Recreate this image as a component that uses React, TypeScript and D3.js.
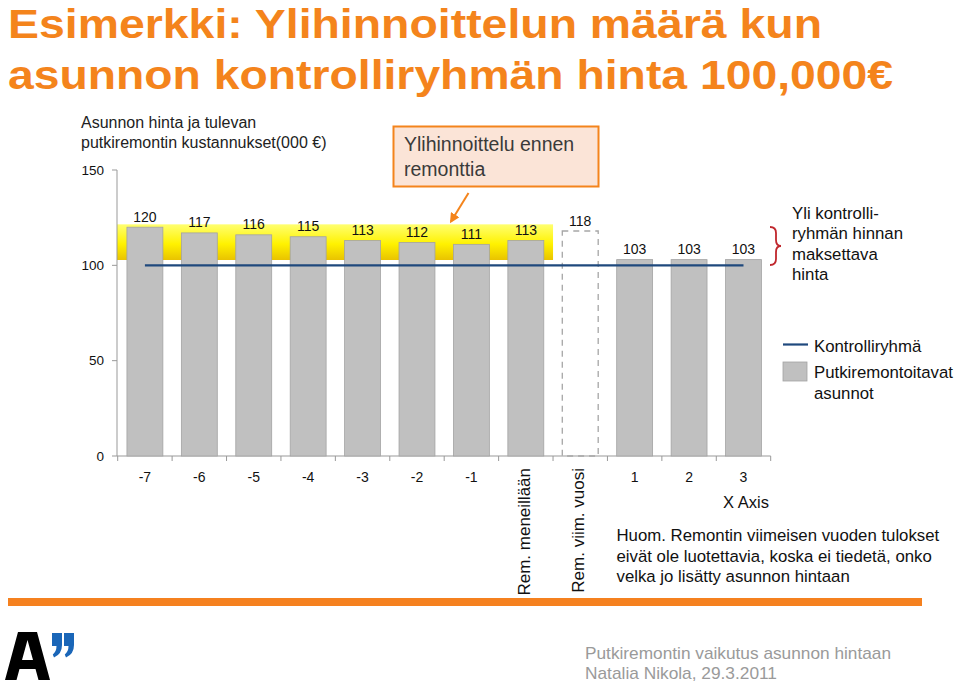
import React from "react";
import * as d3 from "d3";

// ---- data ----
const categories = ["-7", "-6", "-5", "-4", "-3", "-2", "-1", "Rem. meneillään", "Rem. viim. vuosi", "1", "2", "3"];
const renovatedPrices = [120, 117, 116, 115, 113, 112, 111, 113, 118, 103, 103, 103];
const controlPrices = [100, 100, 100, 100, 100, 100, 100, 100, 100, 100, 100, 100];
const dashedCategories = ["Rem. viim. vuosi"];
const rotatedCategories = ["Rem. meneillään", "Rem. viim. vuosi"];
const highlightedCategories = ["-7", "-6", "-5", "-4", "-3", "-2", "-1", "Rem. meneillään"];
const yTicks = [0, 50, 100, 150];
const highlightRange = [102.8, 121.5];

const titleLines = ["Esimerkki: Ylihinnoittelun määrä kun", "asunnon kontrolliryhmän hinta 100,000€"];
const yTitleLines = ["Asunnon hinta ja tulevan", "putkiremontin kustannukset(000 €)"];
const calloutLines = ["Ylihinnoittelu ennen", "remonttia"];
const braceLines = ["Yli kontrolli-", "ryhmän hinnan", "maksettava", "hinta"];
const legendLabels = ["Kontrolliryhmä", "Putkiremontoitavat", "asunnot"];
const noteLines = [
  "Huom. Remontin viimeisen vuoden tulokset",
  "eivät ole luotettavia, koska ei tiedetä, onko",
  "velka jo lisätty asunnon hintaan",
];
const xAxisTitle = "X Axis";
const footerLines = ["Putkiremontin vaikutus asunnon hintaan", "Natalia Nikola, 29.3.2011"];

const FONT = "'Liberation Sans', Arial, sans-serif";
const ORANGE = "#f4841c";

export default function App() {
  const x = d3
    .scaleBand<string>()
    .domain(categories)
    .range([117.7, 770.7])
    .paddingInner(0.34)
    .paddingOuter(0.17);
  const y = d3.scaleLinear().domain([0, 150]).range([456, 170]);
  const step = x.step();
  const bw = x.bandwidth();
  const cx = (c: string) => (x(c) as number) + bw / 2;
  const bandStart = (c: string) => (x(c) as number) - (step - bw) / 2;

  const line = d3
    .line<number>()
    .x((_, i) => cx(categories[i]))
    .y((d) => y(d));

  const hlStart = 117;
  const hlEnd = bandStart(highlightedCategories[highlightedCategories.length - 1]) + step;

  const boundaries = d3.range(categories.length + 1).map((i) => 117.7 + i * step);

  const quote = (ox: number) =>
    `M${ox},633 L${ox + 10},633 L${ox + 10},645 Q${ox + 10},654 ${ox + 2},657.5 L${ox + 0.8},654.5 Q${ox + 4.5},651.5 ${ox + 4.5},646 L${ox},646 Z`;

  return (
    <svg
      width={960}
      height={684}
      style={{ position: "absolute", left: 0, top: 0, background: "#fff" }}
      fontFamily={FONT}
    >
      <defs>
        <linearGradient id="hl" x1="0" y1="0" x2="0" y2="1">
          <stop offset="0" stopColor="#ffff70" />
          <stop offset="0.55" stopColor="#fff200" />
          <stop offset="1" stopColor="#e9c300" />
        </linearGradient>
        <marker id="arrow" viewBox="0 0 10 10" refX="8" refY="5" markerWidth="5" markerHeight="5" orient="auto">
          <path d="M0,0 L10,5 L0,10 z" fill={ORANGE} />
        </marker>
      </defs>

      {/* title */}
      <text x={8} y={37.5} fontSize={41} fontWeight="bold" fill={ORANGE} textLength={814} lengthAdjust="spacingAndGlyphs">
        {titleLines[0]}
      </text>
      <text x={8} y={88.5} fontSize={41} fontWeight="bold" fill={ORANGE} textLength={885} lengthAdjust="spacingAndGlyphs">
        {titleLines[1]}
      </text>

      {/* y axis title */}
      {yTitleLines.map((t, i) => (
        <text key={t} x={81} y={128 + i * 20} fontSize={16} fill="#222">
          {t}
        </text>
      ))}

      {/* highlight */}
      <rect
        x={hlStart}
        y={y(highlightRange[1])}
        width={hlEnd - hlStart}
        height={y(highlightRange[0]) - y(highlightRange[1])}
        fill="url(#hl)"
      />

      {/* y axis */}
      <line x1={117} x2={117} y1={y(0)} y2={y(150)} stroke="#999" />
      {yTicks.map((t) => (
        <g key={t}>
          <line x1={112} x2={117} y1={y(t)} y2={y(t)} stroke="#999" />
          <text x={104} y={y(t)} dy="0.35em" textAnchor="end" fontSize={13.5} fill="#111">
            {t}
          </text>
        </g>
      ))}

      {/* x axis */}
      <line x1={117} x2={770.7} y1={y(0)} y2={y(0)} stroke="#999" />
      {boundaries.map((b, i) => (
        <line key={i} x1={b} x2={b} y1={y(0)} y2={y(0) + 5} stroke="#999" />
      ))}

      {/* bars */}
      {categories.map((c, i) => {
        const v = renovatedPrices[i];
        const dashed = dashedCategories.includes(c);
        return (
          <g key={c}>
            <rect
              x={x(c)}
              y={y(v)}
              width={bw}
              height={y(0) - y(v)}
              fill={dashed ? "none" : "#c0c0c0"}
              stroke={dashed ? "#a6a6a6" : "#a3a3a3"}
              strokeWidth={dashed ? 1.3 : 0.8}
              strokeDasharray={dashed ? "6,5" : undefined}
            />
            <text x={cx(c)} y={y(v) - 5.5} textAnchor="middle" fontSize={14} fill="#111">
              {v}
            </text>
          </g>
        );
      })}

      {/* control line */}
      <path d={line(controlPrices) || ""} fill="none" stroke="#1f497d" strokeWidth={2.2} />

      {/* x tick labels */}
      {categories.map((c) =>
        rotatedCategories.includes(c) ? (
          <text
            key={c}
            transform={`translate(${cx(c) + 4.2},468) rotate(-90)`}
            textAnchor="end"
            fontSize={17}
            fill="#111"
          >
            {c}
          </text>
        ) : (
          <text key={c} x={cx(c)} y={482} textAnchor="middle" fontSize={14} fill="#111">
            {c}
          </text>
        )
      )}
      <text x={746} y={508} textAnchor="middle" fontSize={16.5} fill="#111">
        {xAxisTitle}
      </text>

      {/* callout */}
      <rect x={393.5} y={126.5} width={205} height={60} fill="#fbe4d7" stroke={ORANGE} strokeWidth={2} />
      {calloutLines.map((t, i) => (
        <text key={t} x={404} y={151 + i * 24.5} fontSize={19.5} fill="#3a3a3a">
          {t}
        </text>
      ))}
      <line x1={468.5} y1={193} x2={451} y2={221.5} stroke={ORANGE} strokeWidth={2} markerEnd="url(#arrow)" />

      {/* brace */}
      <path
        d="M770,227 Q776,227 776,233 L776,240 Q776,246 781,246 Q776,246 776,252 L776,259 Q776,265 770,265"
        fill="none"
        stroke="#c0272d"
        strokeWidth={1.8}
      />
      {braceLines.map((t, i) => (
        <text key={t} x={792} y={218.5 + i * 20.5} fontSize={16.8} fill="#111">
          {t}
        </text>
      ))}

      {/* legend */}
      <line x1={783} x2={808} y1={344.5} y2={344.5} stroke="#1f497d" strokeWidth={2.2} />
      <text x={814} y={352} fontSize={16.8} fill="#111">
        {legendLabels[0]}
      </text>
      <rect x={783} y={362} width={24} height={19} fill="#c0c0c0" stroke="#a3a3a3" strokeWidth={0.8} />
      <text x={814} y={378} fontSize={16.8} fill="#111">
        {legendLabels[1]}
      </text>
      <text x={814} y={399} fontSize={16.8} fill="#111">
        {legendLabels[2]}
      </text>

      {/* note */}
      {noteLines.map((t, i) => (
        <text key={t} x={616.5} y={541 + i * 20.5} fontSize={16.8} fill="#111">
          {t}
        </text>
      ))}

      {/* orange rule */}
      <rect x={8} y={598} width={914} height={8} fill="#f5811f" />

      {/* logo (graphic) */}
      <path
        d="M5,680 L18,632 L37,632 L50,680 L38.5,680 L35.5,669 L19.5,669 L16.5,680 Z M22,660 L33,660 L27.5,640 Z"
        fill="#000"
        fillRule="evenodd"
      />
      <path d={quote(52)} fill="#1a66b8" />
      <path d={quote(64)} fill="#1a66b8" />

      {/* footer */}
      <text
        x={585}
        y={659}
        fontSize={17}
        fill="#9a9a9a"
        fontFamily="'Liberation Sans Narrow', 'Liberation Sans', sans-serif"
        textLength={306}
        lengthAdjust="spacingAndGlyphs"
      >
        {footerLines[0]}
      </text>
      <text
        x={585}
        y={679}
        fontSize={17}
        fill="#9a9a9a"
        fontFamily="'Liberation Sans Narrow', 'Liberation Sans', sans-serif"
        textLength={192}
        lengthAdjust="spacingAndGlyphs"
      >
        {footerLines[1]}
      </text>
    </svg>
  );
}
